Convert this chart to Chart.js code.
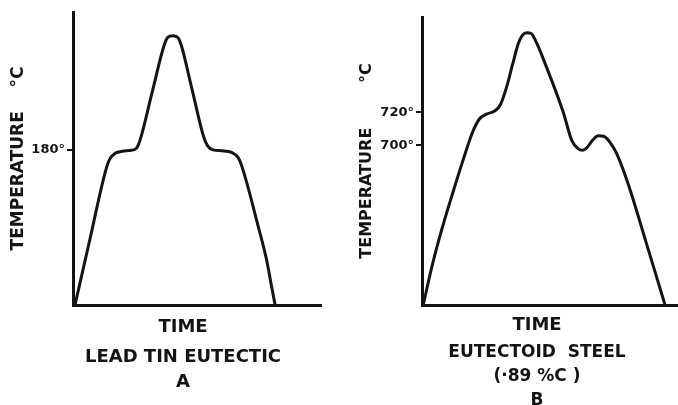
<!DOCTYPE html>
<html>
<head>
<meta charset="utf-8">
<title>Cooling curves</title>
<script src="https://cdn.jsdelivr.net/npm/chart.js@4"></script>
<style>
  html, body { margin: 0; padding: 0; background: #fff; width: 678px; height: 405px; overflow: hidden; }
  canvas { position: absolute; top: 0; }
  #chartA { left: 0; }
  #chartB { left: 340px; }
</style>
</head>
<body>
<canvas id="chartA" width="366" height="405"></canvas>
<canvas id="chartB" width="394" height="415"></canvas>
<script>
// A: lead tin eutectic (time in arbitrary units, temperature in deg C)
const timeA = [0.8, 6.8, 12.9, 14.6, 17.0, 20.0, 23.5, 25.6, 27.0, 31.8, 36.6, 38.2, 40.4, 42.4, 43.6,
               48.1, 52.6, 54.2, 56.5, 60.0, 64.0, 66.6, 68.2, 74.7, 78.1, 80.1, 81.5];
const tempA = [0, 76, 153, 168, 176, 178.5, 179.5, 182, 191, 245.5, 300, 310.5, 312.5, 310, 302,
               249, 196, 185, 180, 179, 177, 171, 160, 91, 52, 21, 0];
const ticksA = [180];

// B: eutectoid steel (.89 %C)
const timeB = [0.4, 3.0, 6.5, 10.0, 13.5, 16.2, 18.4, 20.7, 23.4, 25.2, 27.2, 29.0, 30.9, 32.2, 33.6, 35.0, 36.8,
               39.4, 45.3, 48.0, 50.0, 51.4, 52.8, 54.6, 56.5, 58.2, 60.2, 62.4, 66.0, 72.0, 77.9];
const tempB = [603, 625, 650, 672, 693, 708, 716, 719, 721, 725, 736, 749, 762, 767, 768.5, 768, 762,
               750, 720, 703, 698, 697, 698.5, 703, 705.8, 705.5, 702, 695, 677, 640, 603];
const ticksB = [700, 720];

const ink = '#141414';
Chart.defaults.font.family = '"DejaVu Sans", sans-serif';
Chart.defaults.font.weight = 'bold';
Chart.defaults.color = ink;

function coolingChart(id, times, temps, ticks, o) {
  const scales = {
    x: {
      type: 'linear', min: 0, max: 100,
      grid: { display: false },
      ticks: { display: false },
      border: { color: ink, width: 3 },
      afterFit: s => { s.height = 4; }
    },
    y: {
      type: 'linear', min: o.yMin, max: o.yMax,
      afterBuildTicks: s => { s.ticks = ticks.map(v => ({ value: v })); },
      ticks: { callback: v => v + '°', padding: 2, color: ink, font: { size: 13, weight: 'bold' } },
      grid: { drawOnChartArea: false, drawTicks: true, tickLength: 6, color: ink, lineWidth: 2 },
      border: { color: ink, width: 3 },
      title: {
        display: true, text: o.yTitle, color: ink,
        font: { size: o.yTitleSize, weight: 'bold', lineHeight: '20px' },
        padding: { top: o.yTitlePad, bottom: 0 }
      },
      afterFit: s => { s.width = o.axisLeft; }
    }
  };
  if (o.rightGap) {
    // empty right-hand axis, only keeps the captions centred under the curve
    scales.gap = {
      type: 'linear', position: 'right',
      grid: { display: false }, border: { display: false }, ticks: { display: false },
      afterFit: s => { s.width = o.rightGap; }
    };
  }

  return new Chart(document.getElementById(id), {
    type: 'line',
    data: {
      datasets: [{
        data: times.map((t, i) => ({ x: t, y: temps[i] })),
        borderColor: ink,
        borderWidth: 3,
        pointRadius: 0,
        fill: false,
        cubicInterpolationMode: 'monotone'
      }]
    },
    options: {
      responsive: false,
      animation: false,
      devicePixelRatio: 1,
      layout: { padding: { top: o.top, left: 0, right: 0, bottom: 0 } },
      plugins: {
        legend: { display: false },
        tooltip: { enabled: false },
        subtitle: {
          display: true, position: 'bottom', text: 'TIME', color: ink,
          font: { size: 18, weight: 'bold', lineHeight: '20px' },
          padding: o.timePad
        },
        title: {
          display: true, position: 'bottom', text: o.caption, color: ink,
          font: { size: o.capSize, weight: 'bold', lineHeight: o.capLine },
          padding: o.capPad
        }
      },
      scales
    }
  });
}

coolingChart('chartA', timeA, tempA, ticksA, {
  yMin: 0, yMax: 340, top: 12, axisLeft: 73, rightGap: 45,
  yTitle: 'TEMPERATURE    °C', yTitleSize: 17, yTitlePad: 9,
  caption: ['LEAD TIN EUTECTIC', 'A'], capSize: 18, capLine: '25px',
  timePad: { top: 8, bottom: 7.5 }, capPad: { top: 0, bottom: 10.5 }
});

coolingChart('chartB', timeB, tempB, ticksB, {
  yMin: 603, yMax: 778, top: 17, axisLeft: 82, rightGap: 0,
  yTitle: 'TEMPERATURE        °C', yTitleSize: 16, yTitlePad: 17,
  caption: ['EUTECTOID  STEEL', '(·89 %C )', 'B'], capSize: 17, capLine: '24px',
  timePad: { top: 6, bottom: 6 }, capPad: { top: 0, bottom: 2 }
});
</script>
</body>
</html>
